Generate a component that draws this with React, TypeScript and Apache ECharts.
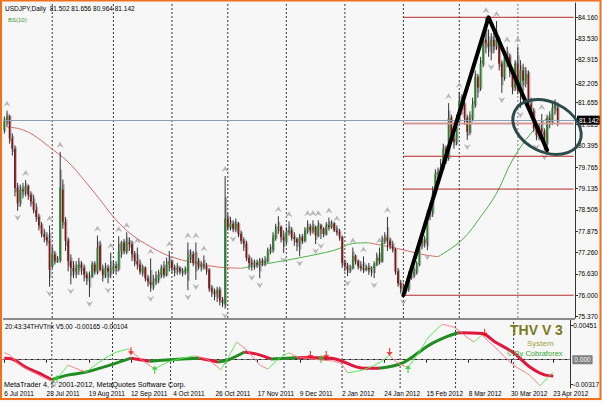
import React, { useEffect, useRef } from "react";
import * as echarts from "echarts";

// ---------- axes / categories ----------
const SLOT_COUNT = 215; // 209 daily bars + empty space on the right
const LABEL_STEP = 16;
const DATE_LABELS = [
  "6 Jul 2011", "28 Jul 2011", "19 Aug 2011", "12 Sep 2011", "4 Oct 2011",
  "26 Oct 2011", "17 Nov 2011", "9 Dec 2011", "2 Jan 2012", "24 Jan 2012",
  "15 Feb 2012", "8 Mar 2012", "30 Mar 2012", "23 Apr 2012",
];
const MONTH_STARTS = [18, 41, 63, 84, 106, 128, 150, 171, 193];
const GREY_SEPARATOR = 193;

const PRICE_TICKS = [84.16, 83.53, 82.915, 82.205, 81.655, 81.025, 80.395, 79.765, 79.135, 78.505, 77.875, 77.26, 76.63, 76.0, 75.37];
const PRICE_MIN = 75.332;
const PRICE_MAX = 84.58;
const LAST_PRICE = 81.142;
const TITLE = "USDJPY,Daily  81.502 81.656 80.964 81.142";

// ---------- price bars: [open, high, low, close] ----------
const OHLC: number[][] = [
  [80.85, 81.25, 80.75, 81.10], [81.10, 81.42, 80.95, 81.25], [81.25, 81.30, 80.45, 80.60], [80.60, 80.75, 80.10, 80.30],
  [80.30, 80.40, 78.90, 79.15], [79.15, 79.30, 78.48, 78.70], [78.75, 79.25, 78.60, 79.10], [79.10, 79.30, 78.85, 79.05],
  [79.05, 79.38, 78.90, 79.20], [79.20, 79.25, 78.80, 78.95], [78.95, 79.05, 78.60, 78.75], [78.75, 78.95, 78.40, 78.50],
  [78.50, 78.70, 78.15, 78.30], [78.30, 78.40, 77.90, 78.05], [78.05, 78.15, 77.70, 77.80], [77.80, 77.95, 77.55, 77.70],
  [77.70, 77.85, 77.45, 77.60], [77.60, 78.05, 76.25, 76.75], [76.85, 77.45, 76.80, 77.20], [77.20, 77.30, 76.90, 77.00],
  [77.00, 77.15, 76.95, 77.05], [77.06, 80.21, 76.95, 79.17], [79.10, 79.40, 77.95, 78.15], [78.15, 78.30, 77.30, 77.60],
  [77.60, 77.70, 76.70, 77.00], [77.00, 77.20, 76.32, 76.80], [76.80, 77.00, 76.50, 76.70], [76.70, 77.00, 76.50, 76.80],
  [76.80, 77.10, 76.60, 76.90], [76.90, 77.00, 76.60, 76.80], [76.80, 76.90, 76.40, 76.60], [76.60, 76.70, 76.30, 76.50],
  [76.50, 76.70, 75.95, 76.50], [76.55, 77.00, 76.50, 76.90], [76.90, 77.00, 76.60, 76.70], [76.70, 77.75, 76.60, 77.40],
  [77.45, 77.60, 76.70, 76.75], [76.75, 76.90, 76.40, 76.60], [76.60, 76.95, 76.50, 76.80], [76.80, 76.90, 76.35, 76.70],
  [76.70, 77.25, 76.50, 76.75], [76.75, 77.00, 76.65, 76.85], [76.85, 77.00, 76.60, 76.80], [76.80, 77.73, 76.70, 77.30],
  [77.30, 77.60, 77.10, 77.55], [77.55, 77.65, 77.20, 77.30], [77.30, 77.85, 77.20, 77.55], [77.55, 77.70, 77.30, 77.50],
  [77.50, 77.60, 77.00, 77.20], [77.20, 77.30, 76.85, 77.00], [77.00, 77.40, 76.75, 76.90], [76.90, 77.05, 76.60, 76.70],
  [76.70, 76.90, 76.55, 76.80], [76.80, 76.85, 76.40, 76.50], [76.50, 76.60, 76.25, 76.40], [76.40, 77.08, 76.10, 76.30],
  [76.30, 76.60, 76.15, 76.40], [76.40, 76.70, 76.30, 76.50], [76.50, 76.75, 76.35, 76.60], [76.60, 76.90, 76.50, 76.80],
  [76.80, 77.00, 76.50, 76.60], [76.60, 77.10, 76.55, 76.90], [76.90, 77.30, 76.70, 77.00], [77.00, 77.05, 76.65, 76.80],
  [76.80, 76.90, 76.55, 76.75], [76.75, 76.95, 76.60, 76.80], [76.80, 76.85, 76.60, 76.70], [76.70, 76.80, 76.55, 76.70],
  [76.70, 76.85, 76.60, 76.75], [76.70, 77.55, 76.15, 77.10], [77.10, 77.35, 76.95, 77.20], [77.20, 77.30, 76.85, 76.95],
  [76.95, 77.55, 76.45, 77.00], [77.00, 77.10, 76.75, 76.85], [76.85, 77.00, 76.70, 76.90], [76.90, 77.17, 76.75, 76.85],
  [76.85, 76.95, 76.60, 76.75], [76.75, 76.80, 76.10, 76.20], [76.20, 76.30, 75.95, 76.10], [76.10, 76.20, 75.85, 76.05],
  [76.05, 76.25, 75.80, 76.15], [76.15, 76.25, 75.70, 75.85], [75.85, 75.95, 75.65, 75.80], [75.75, 79.50, 75.60, 78.25],
  [78.25, 78.40, 77.90, 78.00], [78.00, 78.30, 77.90, 78.10], [78.10, 78.20, 77.85, 77.95], [77.95, 78.25, 77.85, 78.10],
  [78.10, 78.15, 77.70, 77.80], [77.80, 77.90, 77.50, 77.60], [77.60, 77.70, 77.30, 77.50], [77.50, 77.60, 77.00, 77.10],
  [77.10, 77.20, 76.75, 76.95], [76.95, 77.10, 76.72, 76.90], [76.90, 77.05, 76.75, 76.95], [76.95, 77.05, 76.80, 76.90],
  [76.90, 77.10, 76.50, 77.00], [77.00, 77.10, 76.85, 76.95], [76.95, 77.15, 76.85, 77.00], [77.00, 77.40, 76.95, 77.30],
  [77.30, 77.50, 77.20, 77.35], [77.35, 77.85, 77.25, 77.70], [77.70, 78.10, 77.60, 77.95], [77.95, 78.32, 77.80, 78.00],
  [78.00, 78.05, 77.55, 77.70], [77.70, 77.90, 77.24, 77.60], [77.60, 78.00, 77.50, 77.85], [77.85, 78.17, 77.75, 77.90],
  [77.90, 78.00, 77.60, 77.70], [77.70, 77.85, 77.45, 77.65], [77.65, 77.70, 77.30, 77.55], [77.55, 77.80, 77.14, 77.70],
  [77.70, 77.80, 77.50, 77.60], [77.60, 78.00, 77.55, 77.90], [77.90, 78.20, 77.80, 78.00], [78.00, 78.10, 77.75, 77.90],
  [77.90, 78.20, 77.80, 78.00], [78.00, 78.05, 77.50, 77.75], [77.75, 78.20, 77.70, 78.05], [78.05, 78.10, 77.65, 77.95],
  [77.95, 78.00, 77.70, 77.80], [77.80, 78.15, 77.75, 78.05], [78.05, 78.28, 77.90, 78.00], [78.00, 78.20, 77.95, 78.10],
  [78.10, 78.15, 77.85, 77.90], [77.90, 78.05, 77.75, 77.85], [77.85, 77.95, 77.60, 77.70], [77.70, 77.75, 76.80, 76.95],
  [76.95, 77.05, 76.70, 76.85], [76.85, 76.95, 76.56, 76.75], [76.75, 76.90, 76.65, 76.80], [76.80, 77.40, 76.75, 77.15],
  [77.15, 77.20, 76.90, 77.00], [77.00, 77.05, 76.75, 76.85], [76.85, 77.00, 76.70, 76.80], [76.80, 77.14, 76.65, 76.75],
  [76.75, 76.90, 76.70, 76.80], [76.80, 76.95, 76.60, 76.75], [76.75, 76.85, 76.55, 76.80], [76.80, 77.00, 76.50, 76.90],
  [76.90, 77.25, 76.85, 77.10], [77.10, 77.40, 76.90, 77.00], [77.00, 77.75, 76.95, 77.60], [77.60, 77.85, 77.50, 77.70],
  [77.70, 78.30, 77.30, 77.60], [77.60, 77.70, 77.35, 77.45], [77.45, 77.60, 77.25, 77.35], [77.35, 77.40, 76.60, 76.70],
  [76.70, 76.80, 76.25, 76.35], [76.35, 76.45, 76.05, 76.20], [76.20, 76.35, 76.00, 76.25], [76.25, 76.40, 76.05, 76.20],
  [76.20, 76.70, 76.10, 76.55], [76.55, 76.75, 76.45, 76.60], [76.60, 76.85, 76.50, 76.70], [76.70, 77.00, 76.60, 76.90],
  [76.90, 77.60, 76.85, 77.50], [77.50, 77.75, 77.35, 77.60], [77.60, 77.75, 77.40, 77.55], [77.55, 78.50, 77.32, 78.40],
  [78.40, 78.70, 78.20, 78.45], [78.45, 79.20, 78.30, 79.00], [79.00, 79.70, 78.90, 79.55], [79.55, 79.75, 79.40, 79.60],
  [79.60, 80.00, 79.50, 79.75], [79.75, 80.45, 79.65, 80.30], [80.30, 80.40, 79.85, 80.00], [80.05, 81.64, 79.95, 81.20],
  [81.20, 81.30, 80.50, 80.60], [80.60, 80.80, 80.30, 80.50], [80.50, 81.30, 80.40, 81.20], [81.20, 81.97, 81.00, 81.70],
  [81.70, 81.90, 81.30, 81.60], [81.60, 81.70, 81.00, 81.20], [81.20, 81.30, 80.56, 80.80], [80.80, 81.40, 80.70, 81.20],
  [81.20, 81.80, 81.10, 81.60], [81.60, 82.60, 81.50, 82.40], [82.40, 82.50, 81.80, 82.10], [82.10, 83.00, 82.00, 82.80],
  [82.80, 83.70, 82.70, 83.50], [83.50, 84.16, 83.10, 83.40], [83.40, 83.80, 83.00, 83.30], [83.30, 83.70, 82.90, 83.50],
  [83.50, 83.70, 83.10, 83.30], [83.30, 84.05, 83.20, 83.50], [83.50, 83.60, 82.60, 82.80], [82.80, 82.90, 81.94, 82.40],
  [82.40, 83.10, 82.30, 83.00], [83.00, 83.30, 82.70, 83.00], [83.00, 83.10, 82.40, 82.60], [82.60, 82.70, 81.90, 82.10],
  [82.10, 82.90, 82.00, 82.80], [82.80, 83.30, 81.90, 82.00], [82.00, 82.90, 81.50, 82.60], [82.60, 82.80, 82.00, 82.30],
  [82.30, 82.70, 82.10, 82.50], [82.50, 82.60, 81.50, 81.60], [81.60, 81.80, 81.20, 81.40], [81.40, 81.50, 80.80, 80.90],
  [80.90, 81.10, 80.55, 80.70], [80.70, 81.05, 80.55, 80.90], [80.90, 81.32, 80.60, 80.80], [80.80, 80.90, 80.26, 80.50],
  [80.50, 81.30, 80.35, 81.20], [81.20, 81.40, 80.90, 81.10], [81.10, 81.70, 81.00, 81.50], [81.50, 81.75, 81.30, 81.60],
  [81.502, 81.656, 80.964, 81.142],
];

const UP_FRACTALS = [1, 8, 17, 21, 35, 40, 43, 46, 50, 55, 62, 69, 72, 75, 83, 103, 107, 114, 116, 118, 122, 125, 131, 135, 141, 144, 167, 171, 181, 185, 189, 193, 202];
const DOWN_FRACTALS = [5, 17, 25, 32, 39, 55, 69, 72, 83, 86, 93, 96, 105, 111, 117, 119, 129, 139, 150, 159, 174, 183, 187, 194, 200, 203];

// moving average: [bar index, value]
const MA_POINTS: number[][] = [
  [1, 80.94], [6, 80.88], [11, 80.70], [17, 80.35], [24, 79.91], [30, 79.38], [36, 78.80], [42, 78.21],
  [48, 77.77], [55, 77.42], [61, 77.18], [67, 77.03], [74, 76.91], [80, 76.83], [86, 76.80], [89, 76.79],
  [99, 76.93], [111, 77.10], [124, 77.32], [131, 77.52], [137, 77.54], [149, 77.35], [157, 77.20], [163, 77.13],
  [172, 77.62], [179, 78.30], [185, 78.99], [191, 79.97], [198, 80.76], [204, 81.20], [207, 81.38],
];

// hand-drawn trend lines and Fibonacci retracement
const TREND_POINTS: number[][] = [[150, 76.0], [182, 84.16], [204, 80.26]];
const FIB_START = 150;
const FIB_END = 214;
const FIB_HIGH = 84.16;
const FIB_LOW = 76.0;
const FIB_PCTS = [0, 38.2, 50, 61.8, 100];

// ---------- THV Trix sub-window ----------
const TRIX_TICKS = [0.00451, -0.00317];
const TRIX_MIN = -0.00367;
const TRIX_MAX = 0.00516;
const TRIX_SIGNAL: number[][] = [
  [0, 0.0002], [3, 0.0001], [8, -0.00095], [13, -0.0017], [18, -0.0026], [24, -0.002], [31, -0.0016], [40, -0.0007],
  [48, 0.0002], [55, -0.0002], [63, 0.0], [74, 0.0002], [81, -0.0003], [85, 0.0], [91, 0.001], [96, 0.0007],
  [101, 0.0001], [107, 0.0002], [111, 0.0003], [124, 0.0002], [136, -0.0011], [142, -0.0011], [151, -0.0004], [161, 0.0019],
  [167, 0.0029], [172, 0.0035], [181, 0.0034], [186, 0.0023], [193, 0.0009], [199, -0.0009], [205, -0.002], [208, -0.0021],
];
const TRIX_MAIN: number[][] = [
  [0, 0.0009], [2, 0.0006], [6, -0.0007], [13, -0.002], [18, -0.0028], [21, -0.002], [24, -0.0007], [27, -0.0011],
  [31, -0.0016], [36, -0.0003], [42, 0.0009], [47, 0.0014], [52, 0.0], [57, -0.0012], [63, -0.0002], [72, 0.0005],
  [77, 0.0], [82, -0.0013], [85, 0.0004], [88, 0.0023], [92, 0.0012], [97, -0.0007], [100, -0.0012], [105, 0.0004],
  [108, 0.0009], [111, 0.0004], [119, 0.0], [127, -0.0004], [130, -0.0017], [136, -0.0013], [142, -0.0004], [146, 0.0006],
  [149, -0.0004], [153, -0.001], [157, 0.0009], [161, 0.003], [166, 0.0046], [171, 0.0041], [175, 0.003], [178, 0.0023],
  [181, 0.0032], [186, 0.0016], [193, -0.0007], [199, -0.002], [203, -0.0034], [208, -0.0016],
];
const SELL_ARROWS: number[][] = [[48, 0.0011], [116, 0.0006], [122, 0.0006], [146, 0.001], [182, 0.0035]];
const BUY_ARROWS: number[][] = [[20, -0.0025], [57, -0.0013], [120, 0.0001], [153, -0.0012]];

const FONT = "'Liberation Sans', Arial, sans-serif";

function splitByDirection(pts: number[][]) {
  const segs: { dir: number; pts: number[][] }[] = [];
  let cur = [pts[0]];
  let dir = 0;
  for (let k = 1; k < pts.length; k++) {
    const d = Math.sign(pts[k][1] - pts[k - 1][1]) || dir;
    if (dir !== 0 && d !== dir) {
      segs.push({ dir, pts: cur });
      cur = [pts[k - 1]];
    }
    dir = d;
    cur.push(pts[k]);
  }
  segs.push({ dir, pts: cur });
  return segs;
}

export default function App() {
  const ref = useRef<HTMLDivElement>(null);

  useEffect(() => {
    if (!ref.current) return;
    const chart = echarts.init(ref.current, undefined, { renderer: "svg" });
    const cats = Array.from({ length: SLOT_COUNT }, (_, i) => String(i));
    const isLabelIdx = (idx: number) => idx % LABEL_STEP === 0 && idx / LABEL_STEP < DATE_LABELS.length;

    const series: any[] = [];

    // month separators (both panes)
    MONTH_STARTS.forEach((i) => {
      series.push({
        type: "line", xAxisIndex: 0, yAxisIndex: 0, z: 1, silent: true, showSymbol: false, symbol: "none",
        data: [[i, PRICE_MIN], [i, PRICE_MAX]],
        lineStyle: i === GREY_SEPARATOR
          ? { color: "#a8a8a8", width: 1.6, type: [2, 2] }
          : { color: "#3a3a3a", width: 1, type: [2, 2] },
      });
      series.push({
        type: "line", xAxisIndex: 1, yAxisIndex: 1, z: 1, silent: true, showSymbol: false, symbol: "none",
        data: [[i, TRIX_MIN], [i, TRIX_MAX]],
        lineStyle: { color: "#3a3a3a", width: 1, type: [2, 2] },
      });
    });

    // moving average, coloured by direction
    splitByDirection(MA_POINTS).forEach((s) => {
      series.push({
        type: "line", xAxisIndex: 0, yAxisIndex: 0, z: 2, silent: true,
        data: s.pts, showSymbol: false, smooth: 0.35,
        lineStyle: { color: s.dir > 0 ? "#4cb04c" : "#d66a6a", width: 1 },
      });
    });

    // candles
    series.push({
      type: "custom", xAxisIndex: 0, yAxisIndex: 0, z: 3, silent: true, clip: true,
      data: OHLC.map((d, i) => [i, d[0], d[1], d[2], d[3]]),
      encode: { x: 0, y: [1, 2, 3, 4] },
      renderItem: (params: any, api: any) => {
        const i = api.value(0);
        const o = api.value(1), h = api.value(2), l = api.value(3), c = api.value(4);
        const pH = api.coord([i, h]), pL = api.coord([i, l]);
        const pO = api.coord([i, o]), pC = api.coord([i, c]);
        const bw = api.size([1, 0])[0];
        const x = pH[0];
        const top = Math.min(pO[1], pC[1]);
        const bot = Math.max(pO[1], pC[1]);
        const gTop = (pH[1] + top) / 2;
        const gBot = (pL[1] + bot) / 2;
        return {
          type: "group",
          children: [
            { type: "rect", shape: { x: x - bw * 0.15, y: gTop, width: bw * 0.85, height: Math.max(1, gBot - gTop) }, style: { fill: "#b4b4b4" } },
            { type: "line", shape: { x1: x, y1: pH[1], x2: x, y2: pL[1] }, style: { stroke: "#1f1f1f", lineWidth: 0.9 } },
            { type: "rect", shape: { x: x - bw * 0.35, y: top, width: bw * 0.6, height: Math.max(1, bot - top) }, style: { fill: c >= o ? "#238423" : "#8b1010" } },
          ],
        };
      },
    });

    // fractals
    series.push({
      type: "scatter", xAxisIndex: 0, yAxisIndex: 0, z: 4, silent: true,
      data: UP_FRACTALS.map((i) => [i, OHLC[i][1]]),
      symbol: "path://M0,10L5,0L10,10L5,6.5Z", symbolSize: [7, 6], symbolOffset: [0, -7],
      itemStyle: { color: "#a6a6a6" },
    });
    series.push({
      type: "scatter", xAxisIndex: 0, yAxisIndex: 0, z: 4, silent: true,
      data: DOWN_FRACTALS.map((i) => [i, OHLC[i][2]]),
      symbol: "path://M0,0L5,10L10,0L5,3.5Z", symbolSize: [7, 6], symbolOffset: [0, 7],
      itemStyle: { color: "#a6a6a6" },
    });

    // Fibonacci levels
    FIB_PCTS.forEach((p, k) => {
      const lv = FIB_HIGH - ((FIB_HIGH - FIB_LOW) * p) / 100;
      const item: any = {
        type: "line", xAxisIndex: 0, yAxisIndex: 0, z: 5, silent: true, showSymbol: false,
        symbol: "none",
        lineStyle: p === 38.2 ? { color: "#d49a9a", width: 2.2 } : { color: "#b52a2a", width: 1 },
        data: [
          [FIB_START, lv],
          { value: [FIB_END, lv], label: { show: true, position: "left", distance: 3, offset: [0, -5], formatter: p.toFixed(1), color: "#a83232", fontSize: 6.5, fontFamily: FONT } },
        ],
      };
      if (k === 0) {
        item.markLine = {
          silent: true, symbol: "none", z: 6, animation: false,
          data: [{
            yAxis: LAST_PRICE,
            lineStyle: { color: "#8e9db4", width: 1, type: "solid" },
            label: {
              show: true, position: "end", distance: 2, formatter: LAST_PRICE.toFixed(3),
              backgroundColor: "#000", color: "#fff", padding: [1, 2, 1, 2], fontSize: 6.5, fontFamily: FONT,
            },
          }],
        };
      }
      series.push(item);
    });

    // hand-drawn trend lines
    series.push({
      type: "line", xAxisIndex: 0, yAxisIndex: 0, z: 7, silent: true, showSymbol: false, symbol: "none",
      data: TREND_POINTS, lineStyle: { color: "#000", width: 4, cap: "round", join: "round" },
    });

    // THV Trix: signal (thick) and main (thin)
    splitByDirection(TRIX_SIGNAL).forEach((s, k) => {
      const item: any = {
        type: "line", xAxisIndex: 1, yAxisIndex: 1, z: 4, silent: true, showSymbol: false, smooth: 0.35,
        data: s.pts, lineStyle: { color: s.dir > 0 ? "#218c21" : "#e0173e", width: 3 },
      };
      if (k === 0) {
        item.markLine = {
          silent: true, symbol: "none", z: 2, animation: false,
          data: [{
            yAxis: 0,
            lineStyle: { color: "#7a7a7a", width: 1, type: "dashed" },
            label: {
              show: true, position: "end", distance: 2, formatter: "0.000",
              backgroundColor: "#808080", color: "#fff", padding: [1, 2, 1, 2], fontSize: 6.5, fontFamily: FONT,
            },
          }],
        };
      }
      series.push(item);
    });
    splitByDirection(TRIX_MAIN).forEach((s) => {
      series.push({
        type: "line", xAxisIndex: 1, yAxisIndex: 1, z: 5, silent: true, showSymbol: false, smooth: 0.35,
        data: s.pts, lineStyle: { color: s.dir > 0 ? "#55ec55" : "#ff8080", width: 1 },
      });
    });
    series.push({
      type: "scatter", xAxisIndex: 1, yAxisIndex: 1, z: 6, silent: true,
      data: SELL_ARROWS,
      symbol: "path://M4,0L6,0L6,6L10,6L5,12L0,6L4,6Z", symbolSize: [6, 8],
      itemStyle: { color: "#ee1111" },
    });
    series.push({
      type: "scatter", xAxisIndex: 1, yAxisIndex: 1, z: 6, silent: true,
      data: BUY_ARROWS,
      symbol: "path://M4,12L6,12L6,6L10,6L5,0L0,6L4,6Z", symbolSize: [6, 8],
      itemStyle: { color: "#22cc22" },
    });

    const txt = (x: number, y: number, text: string, fontSize: number, fill: string, weight = "normal") => ({
      type: "text", x, y, z: 50, silent: true,
      style: { text, fill, font: `${weight} ${fontSize}px ${FONT}`, align: "left", verticalAlign: "middle" },
    });

    const option: any = {
      animation: false,
      backgroundColor: "transparent",
      textStyle: { fontFamily: FONT },
      grid: [
        { left: 3, top: 3, width: 572, height: 315 },
        { left: 3, top: 320, width: 572, height: 68 },
      ],
      xAxis: [
        { type: "category", gridIndex: 0, data: cats, boundaryGap: true, show: false },
        {
          type: "category", gridIndex: 1, data: cats, boundaryGap: true,
          axisLine: { show: true, lineStyle: { color: "#222", width: 1 } },
          axisTick: { show: true, interval: (idx: number) => isLabelIdx(idx), alignWithLabel: true, length: 3, lineStyle: { color: "#222" } },
          axisLabel: {
            show: true, interval: (idx: number) => isLabelIdx(idx), align: "left", margin: 2,
            fontSize: 6.5, color: "#000", fontFamily: FONT,
            formatter: (_v: string, idx: number) => (isLabelIdx(idx) ? DATE_LABELS[idx / LABEL_STEP] : ""),
          },
          splitLine: { show: false },
        },
      ],
      yAxis: [
        {
          type: "value", gridIndex: 0, position: "right", min: PRICE_MIN, max: PRICE_MAX,
          axisLine: { show: true, lineStyle: { color: "#333", width: 1 } },
          axisTick: { show: true, length: 3, customValues: PRICE_TICKS, lineStyle: { color: "#333" } },
          axisLabel: {
            show: true, customValues: PRICE_TICKS, margin: 3, fontSize: 6.5, color: "#000", fontFamily: FONT,
            formatter: (v: number) => v.toFixed(3),
          },
          splitLine: { show: false },
        },
        {
          type: "value", gridIndex: 1, position: "right", min: TRIX_MIN, max: TRIX_MAX,
          axisLine: { show: true, lineStyle: { color: "#333", width: 1 } },
          axisTick: { show: true, length: 3, customValues: TRIX_TICKS, lineStyle: { color: "#333" } },
          axisLabel: {
            show: true, customValues: TRIX_TICKS, margin: 3, fontSize: 6.5, color: "#000", fontFamily: FONT,
            formatter: (v: number) => v.toFixed(5),
          },
          splitLine: { show: false },
        },
      ],
      series,
      graphic: {
        elements: [
          { type: "rect", z: 40, silent: true, shape: { x: 3, y: 318, width: 572, height: 2 }, style: { fill: "#8a8a8a" } },
          {
            type: "ellipse", z: 45, silent: true, x: 547, y: 127, rotation: -0.45,
            shape: { cx: 0, cy: 0, rx: 36, ry: 25 },
            style: { fill: "none", stroke: "#2d4b4b", lineWidth: 3 },
          },
          txt(5, 8, TITLE, 6.5, "#000"),
          txt(8, 20, "BS(10)", 6, "#3a9a3a"),
          txt(5, 326, "20:43:34THVTrix V5.00 -0.00165 -0.00104", 6.5, "#000"),
          txt(4, 384, "MetaTrader 4, \u00a9 2001-2012, MetaQuotes Software Corp.", 7.2, "#000"),
          txt(510, 330, "THV V 3", 14, "#7b7b1c", "bold"),
          txt(527, 343, "System", 8, "#a0a040"),
          txt(507, 353, "\u00a9 By Cobraforex", 7.5, "#35a835"),
          {
            type: "rect", z: 60, silent: true,
            shape: { x: 1, y: 0.5, width: 599.5, height: 398.5 },
            style: { fill: "none", stroke: "#f0701e", lineWidth: 2 },
          },
        ],
      },
    };

    chart.setOption(option);
    return () => chart.dispose();
  }, []);

  return (
    <div
      ref={ref}
      style={{ position: "fixed", left: 0, top: 0, width: 602, height: 402, background: "#f7f7f7" }}
    />
  );
}
